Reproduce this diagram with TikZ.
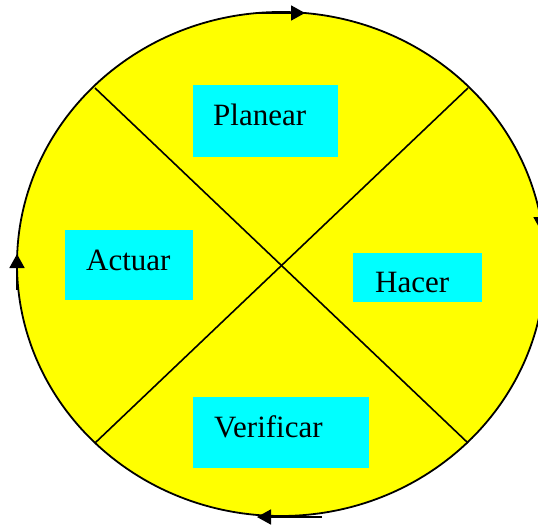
\documentclass[tikz,border=0pt]{standalone}
\usepackage{fontspec}
\setmainfont{Liberation Serif}
\usetikzlibrary{arrows.meta}

\definecolor{amarillo}{RGB}{255,255,0}
\definecolor{celeste}{RGB}{0,255,255}

\tikzset{
  caja/.style={fill=celeste,inner sep=0pt,anchor=north west},
  rotulo/.style={font=\fontsize{31}{36}\selectfont,inner sep=0pt,anchor=base west},
  giro/.style={line width=1.8pt,-{Triangle[length=14pt,width=15pt]}}
}

\begin{document}
\begin{tikzpicture}[x=1pt,y=-1pt]
\useasboundingbox (0,0) rectangle (538,525);
\coordinate (O) at (281,264);
\draw[line width=1.8pt,fill=amarillo] (O) ellipse [x radius=264pt,y radius=252pt];
% diagonales
\coordinate (A) at (95,88);
\coordinate (B) at (468,88);
\coordinate (C) at (468,443);
\coordinate (D) at (95,443);
\draw[line width=1.6pt] (A)--(C);
\draw[line width=1.6pt] (B)--(D);
% flechas del ciclo
\coordinate (T1) at (257,13);   \coordinate (T2) at (305,13);
\coordinate (R1) at (541,180);  \coordinate (R2) at (541,231);
\coordinate (U1) at (322,517);  \coordinate (U2) at (257,517);
\coordinate (L1) at (17,290);   \coordinate (L2) at (17,254);
\draw[giro] (T1)--(T2);
\draw[giro] (R1)--(R2);
\draw[giro] (U1)--(U2);
\draw[giro] (L1)--(L2);
% cajas
\node[caja,minimum width=145pt,minimum height=72pt] (planear) at (193,85) {};
\node[caja,minimum width=128pt,minimum height=70pt] (actuar) at (65,230) {};
\node[caja,minimum width=129pt,minimum height=49pt] (hacer) at (353,253) {};
\node[caja,minimum width=176pt,minimum height=71pt] (verificar) at (193,397) {};
\node[rotulo] (planearlbl) at (213,125) {Planear};
\node[rotulo] (actuarlbl) at (86,270) {Actuar};
\node[rotulo] (hacerlbl) at (375,292) {Hacer};
\node[rotulo] (verificarlbl) at (214,437) {Verificar};
\end{tikzpicture}
\end{document}
